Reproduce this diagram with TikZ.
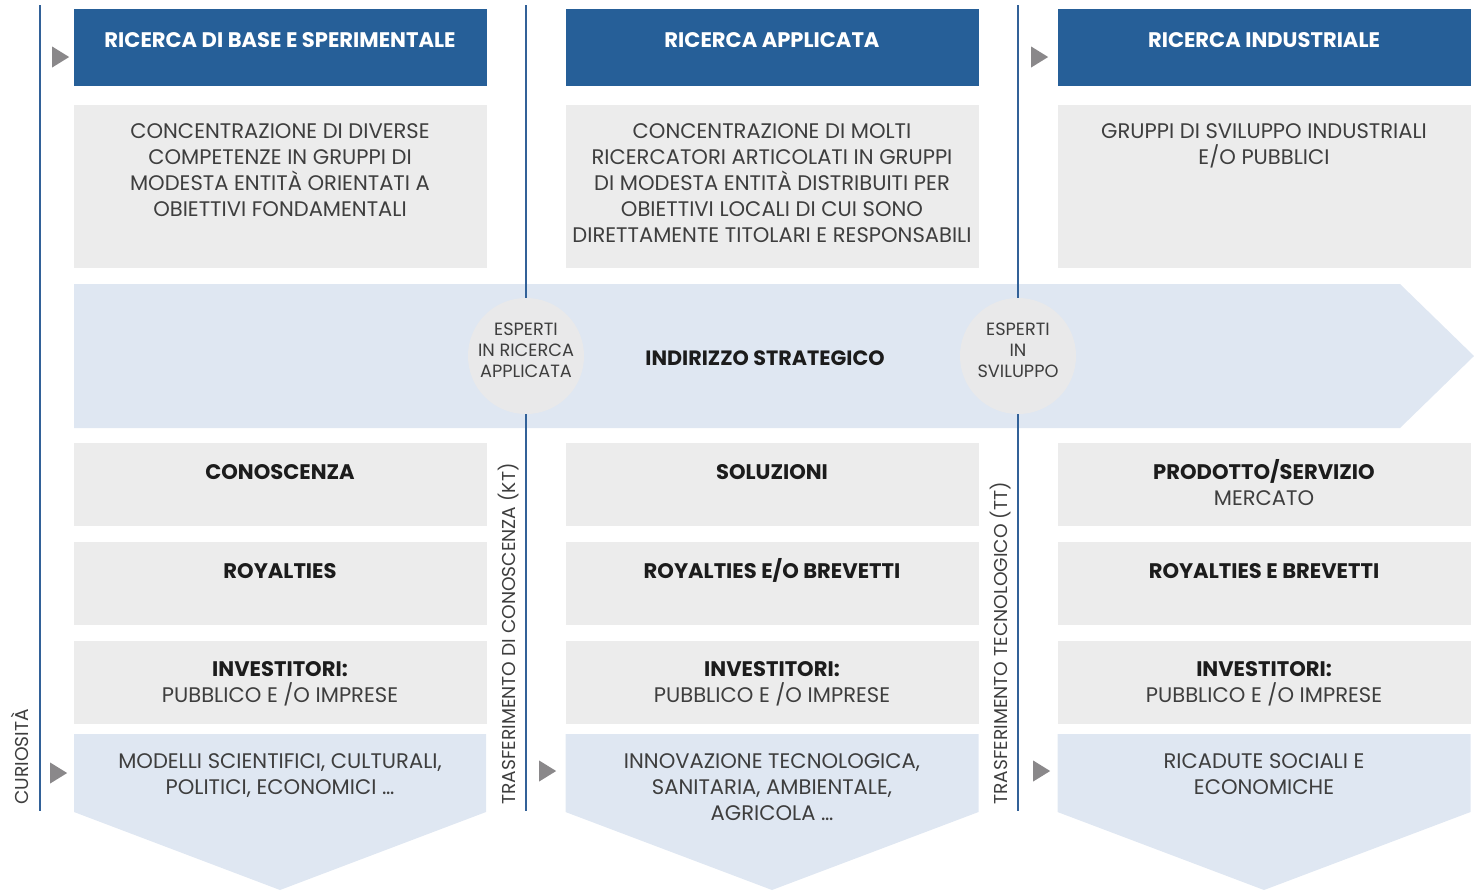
\documentclass[tikz,border=0pt]{standalone}
\usepackage{fontspec}
\setmainfont{Poppins}
\usepackage{xcolor}
\definecolor{myblue}{RGB}{38,95,152}
\definecolor{mylineblue}{RGB}{50,97,152}
\definecolor{mygray}{RGB}{236,236,236}
\definecolor{mylightblue}{RGB}{223,231,242}
\definecolor{mycircle}{RGB}{233,233,234}
\definecolor{mytri}{RGB}{138,136,138}
\definecolor{mytext}{RGB}{62,62,62}
\definecolor{mydark}{RGB}{28,28,28}
\usepackage{tikz}
\usetikzlibrary{positioning,shapes.geometric}
\newcommand{\kw}[1]{\textcolor{mydark}{\bfseries #1}}
\newcommand{\widthcol}{8.26cm}
\newcommand{\heightrow}{1.66cm}
\newcommand{\gaprow}{0.3cm}
\newcommand{\firstline}{\rule{0pt}{12pt}}
\tikzset{
    common/.style={anchor=north, rectangle, inner sep=0pt, minimum width=\widthcol},
    head/.style={common, fill=myblue, minimum height=1.54cm},
    desc/.style={common, fill=mygray, minimum height=3.26cm},
    row/.style={common, fill=mygray, minimum height=\heightrow},
    txt/.style={anchor=north, align=center, inner sep=0pt, text=mytext, font=\fontsize{12}{14.8}\selectfont, execute at begin node=\firstline},
    headtxt/.style={txt, text=white, font=\fontsize{12}{14.8}\selectfont\bfseries},
    expert/.style={circle, fill=mycircle, minimum size=2.32cm, inner sep=0pt},
    experttxt/.style={align=center, inner sep=0pt, text=mytext, font=\fontsize{10.1}{11.9}\selectfont},
    strat/.style={inner sep=0pt, text=mydark, font=\fontsize{11.8}{14.8}\selectfont\bfseries},
    side/.style={rotate=90, anchor=west, inner sep=0pt, text=mytext, font=\fontsize{10.6}{13}\selectfont},
    tri/.style={isosceles triangle, isosceles triangle stretches, fill=mytri, inner sep=0pt, minimum height=0.34cm, minimum width=0.42cm},
    divider/.style={draw=mylineblue, line width=1.4pt}
}

\begin{document}
\begin{tikzpicture}
    \useasboundingbox (0,0) rectangle (29.48,-17.8);

    \node[head] (h1) at (5.6,-0.18) {};
    \node[head] (h2) at (15.44,-0.18) {};
    \node[head] (h3) at (25.28,-0.18) {};
    \node[desc, below=0.36cm of h1] (d1) {};
    \node[desc, below=0.36cm of h2] (d2) {};
    \node[desc, below=0.36cm of h3] (d3) {};

    \node[row] (r11) at (5.6,-8.86) {};
    \node[row, below=\gaprow of r11] (r12) {};
    \node[row, below=\gaprow of r12] (r13) {};
    \node[row] (r21) at (15.44,-8.86) {};
    \node[row, below=\gaprow of r21] (r22) {};
    \node[row, below=\gaprow of r22] (r23) {};
    \node[row] (r31) at (25.28,-8.86) {};
    \node[row, below=\gaprow of r31] (r32) {};
    \node[row, below=\gaprow of r32] (r33) {};

    \fill[mylightblue] (1.48,-5.68) -- (28,-5.68) -- (29.48,-7.12) -- (28,-8.56) -- (1.48,-8.56) -- cycle;
    \fill[mylightblue] (1.48,-14.68) -- (9.72,-14.68) -- (9.72,-16.24) -- (5.6,-17.8) -- (1.48,-16.24) -- cycle;
    \fill[mylightblue] (11.31,-14.68) -- (19.57,-14.68) -- (19.57,-16.24) -- (15.44,-17.8) -- (11.31,-16.24) -- cycle;
    \fill[mylightblue] (21.15,-14.68) -- (29.41,-14.68) -- (29.41,-16.24) -- (25.28,-17.8) -- (21.15,-16.24) -- cycle;

    \node[expert] (c1) at (10.52,-7.12) {};
    \node[expert] (c2) at (20.36,-7.12) {};
    \node[experttxt] (c1t) at ([yshift=0.11cm]c1.center) {ESPERTI\\IN RICERCA\\APPLICATA};
    \node[experttxt] (c2t) at ([yshift=0.11cm]c2.center) {ESPERTI\\IN\\SVILUPPO};
    \node[strat] (st) at (15.3,-7.16) {INDIRIZZO STRATEGICO};

    \coordinate (l1a) at (0.8,-0.1);
    \coordinate (l1b) at (0.8,-16.22);
    \coordinate (l2a) at (10.52,-0.1);
    \coordinate (l2b) at (10.52,-16.22);
    \coordinate (l3a) at (20.36,-0.1);
    \coordinate (l3b) at (20.36,-16.22);
    \draw[divider] (l1a) -- (l1b);
    \draw[divider] (l2a) -- (c1) (c1) -- (l2b);
    \draw[divider] (l3a) -- (c2) (c2) -- (l3b);

    \node[tri] (t1) at (1.16,-1.14) {};
    \node[tri] (t2) at (20.74,-1.14) {};
    \node[tri] (t3) at (1.12,-15.46) {};
    \node[tri] (t4) at (10.9,-15.42) {};
    \node[tri] (t5) at (20.78,-15.42) {};

    \node[side] (s1) at (0.4,-16.1) {CURIOSITÀ};
    \node[side] (s2) at (10.18,-16.1) {TRASFERIMENTO DI CONOSCENZA (KT)};
    \node[side] (s3) at (20.02,-16.1) {TRASFERIMENTO TECNOLOGICO (TT)};

    \node[headtxt] (h1t) at ([yshift=-0.34cm]h1.north) {RICERCA DI BASE E SPERIMENTALE};
    \node[headtxt] (h2t) at ([yshift=-0.34cm]h2.north) {RICERCA APPLICATA};
    \node[headtxt] (h3t) at ([yshift=-0.34cm]h3.north) {RICERCA INDUSTRIALE};

    \node[txt] (d1t) at ([yshift=-0.37cm]d1.north) {CONCENTRAZIONE DI DIVERSE\\COMPETENZE IN GRUPPI DI\\MODESTA ENTITÀ ORIENTATI A\\OBIETTIVI FONDAMENTALI};
    \node[txt] (d2t) at ([yshift=-0.37cm]d2.north) {CONCENTRAZIONE DI MOLTI\\RICERCATORI ARTICOLATI IN GRUPPI\\DI MODESTA ENTITÀ DISTRIBUITI PER\\OBIETTIVI LOCALI DI CUI SONO\\DIRETTAMENTE TITOLARI E RESPONSABILI};
    \node[txt] (d3t) at ([yshift=-0.37cm]d3.north) {GRUPPI DI SVILUPPO INDUSTRIALI\\E/O PUBBLICI};

    \node[txt] (r11t) at ([yshift=-0.31cm]r11.north) {\kw{CONOSCENZA}};
    \node[txt] (r12t) at ([yshift=-0.31cm]r12.north) {\kw{ROYALTIES}};
    \node[txt] (r13t) at ([yshift=-0.41cm]r13.north) {\kw{INVESTITORI:}\\PUBBLICO E /O IMPRESE};
    \node[txt] (r21t) at ([yshift=-0.31cm]r21.north) {\kw{SOLUZIONI}};
    \node[txt] (r22t) at ([yshift=-0.31cm]r22.north) {\kw{ROYALTIES E/O BREVETTI}};
    \node[txt] (r23t) at ([yshift=-0.41cm]r23.north) {\kw{INVESTITORI:}\\PUBBLICO E /O IMPRESE};
    \node[txt] (r31t) at ([yshift=-0.33cm]r31.north) {\kw{PRODOTTO/SERVIZIO}\\MERCATO};
    \node[txt] (r32t) at ([yshift=-0.31cm]r32.north) {\kw{ROYALTIES E BREVETTI}};
    \node[txt] (r33t) at ([yshift=-0.41cm]r33.north) {\kw{INVESTITORI:}\\PUBBLICO E /O IMPRESE};

    \node[txt] (v1) at (5.6,-15.06) {MODELLI SCIENTIFICI, CULTURALI,\\POLITICI, ECONOMICI \dots};
    \node[txt] (v2) at (15.44,-15.06) {INNOVAZIONE TECNOLOGICA,\\SANITARIA, AMBIENTALE,\\AGRICOLA \dots};
    \node[txt] (v3) at (25.28,-15.06) {RICADUTE SOCIALI E\\ECONOMICHE};
\end{tikzpicture}
\end{document}
